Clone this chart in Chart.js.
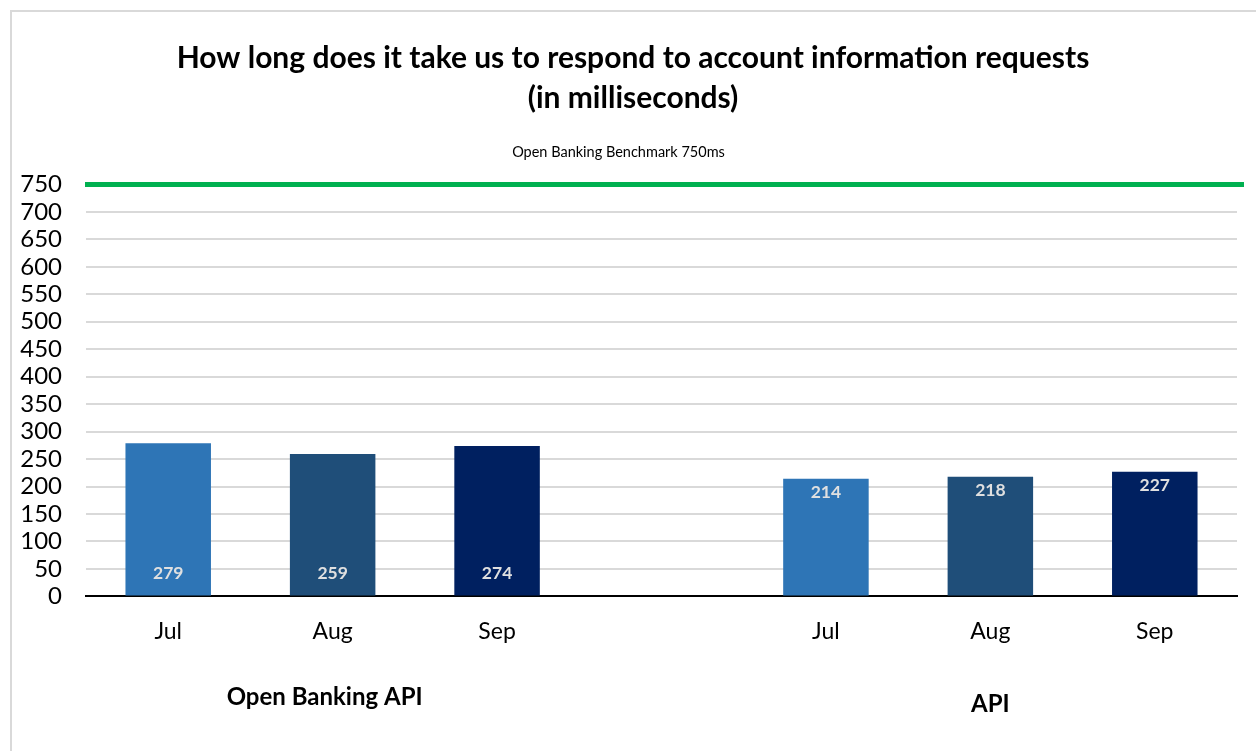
<!DOCTYPE html>
<html>
<head>
<meta charset="utf-8">
<script src="https://cdn.jsdelivr.net/npm/chart.js@4/dist/chart.umd.min.js"></script>
<style>
  html, body { margin: 0; padding: 0; background: #fff; }
  #wrap { position: relative; width: 1256px; height: 751px; overflow: hidden; }
  #frame { position: absolute; left: 10px; top: 10px; width: 1300px; height: 800px; border: 2px solid #d9d9d9; box-sizing: border-box; }
  canvas { position: absolute; left: 0; top: 0; }
</style>
</head>
<body>
<div id="wrap">
  <div id="frame"></div>
  <canvas id="c" width="1256" height="751"></canvas>
</div>
<script>
// ---- data ----
const categories = ['Jul', 'Aug', 'Sep', '', 'Jul', 'Aug', 'Sep'];
const responseMs = [279, 259, 274, null, 214, 218, 227];
const groupNames = ['Open Banking API', 'API'];
const groupCenters = [1, 5];           // category index at the middle of each group
const benchmarkMs = 750;
const titleLines = ['How long does it take us to respond to account information requests', '(in milliseconds)'];
const subtitleText = 'Open Banking Benchmark 750ms';
const yMin = 0, yMax = 750, yStep = 50;

// ---- styles ----
const monthColors = { Jul: '#2E75B6', Aug: '#1F4E79', Sep: '#002060' };
const FONT = 'Lato, "Open Sans", sans-serif';

const titlePlugin = {
  id: 'customTitle',
  afterDraw(chart) {
    const { ctx } = chart;
    ctx.save();
    ctx.font = 'bold 30px ' + FONT;
    ctx.fillStyle = '#000';
    ctx.textAlign = 'center';
    ctx.textBaseline = 'middle';
    ctx.fillText(titleLines[0], 633, 58);
    ctx.fillText(titleLines[1], 633, 98);
    ctx.restore();
  }
};

const benchmarkPlugin = {
  id: 'benchmark',
  afterDatasetsDraw(chart) {
    const { ctx, chartArea, scales } = chart;
    const y = scales.y.getPixelForValue(benchmarkMs);
    ctx.save();
    ctx.strokeStyle = '#00B050';
    ctx.lineWidth = 5;
    ctx.beginPath();
    ctx.moveTo(chartArea.left - 1, y);
    ctx.lineTo(chartArea.right + 7, y);
    ctx.stroke();
    ctx.restore();
  }
};

const labelsPlugin = {
  id: 'barLabels',
  afterDatasetsDraw(chart) {
    const { ctx, scales } = chart;
    const meta = chart.getDatasetMeta(0);
    ctx.save();
    ctx.font = 'bold 17.5px ' + FONT;
    ctx.fillStyle = '#E0E0E0';
    ctx.textAlign = 'center';
    ctx.textBaseline = 'middle';
    meta.data.forEach((bar, i) => {
      const v = responseMs[i];
      if (v == null) return;
      const base = scales.y.getPixelForValue(0);
      const top = scales.y.getPixelForValue(v);
      const y = i < 3 ? base - 23 : top + 14;
      ctx.fillText(String(v), bar.x, y);
    });
    // group labels
    ctx.font = 'bold 24px ' + FONT;
    ctx.fillStyle = '#000';
    const gy = [697, 704];
    const gdx = [-8, 0];
    groupNames.forEach((name, g) => {
      const x = scales.x.getPixelForValue(groupCenters[g]) + gdx[g];
      ctx.fillText(name, x, gy[g]);
    });
    ctx.restore();
  }
};

new Chart(document.getElementById('c'), {
  type: 'bar',
  data: {
    labels: categories,
    datasets: [{
      data: responseMs,
      backgroundColor: categories.map(c => monthColors[c] || '#fff'),
      barPercentage: 0.52,
      categoryPercentage: 1.0
    }]
  },
  options: {
    responsive: false,
    animation: false,
    layout: { padding: { left: 0, right: 19, top: 0, bottom: 85 } },
    plugins: {
      legend: { display: false },
      tooltip: { enabled: false },
      title: { display: false },
      subtitle: {
        display: true,
        text: subtitleText,
        color: '#000',
        font: { family: FONT, size: 14.5, lineHeight: 1.2 },
        padding: { top: 144, bottom: 23 }
      }
    },
    scales: {
      x: {
        grid: { display: false, drawTicks: false },
        border: { display: true, color: '#000', width: 2 },
        ticks: { color: '#000', font: { family: FONT, size: 23 }, padding: 21, autoSkip: false, maxRotation: 0 }
      },
      y: {
        min: yMin, max: yMax,
        afterFit(scale) { scale.width = 86; },
        grid: { color: '#d9d9d9', lineWidth: 2, drawTicks: false },
        border: { display: false },
        ticks: { stepSize: yStep, autoSkip: false, color: '#000', font: { family: FONT, size: 24, lineHeight: 1 }, padding: 24 }
      }
    }
  },
  plugins: [benchmarkPlugin, labelsPlugin, titlePlugin]
});
</script>
</body>
</html>
